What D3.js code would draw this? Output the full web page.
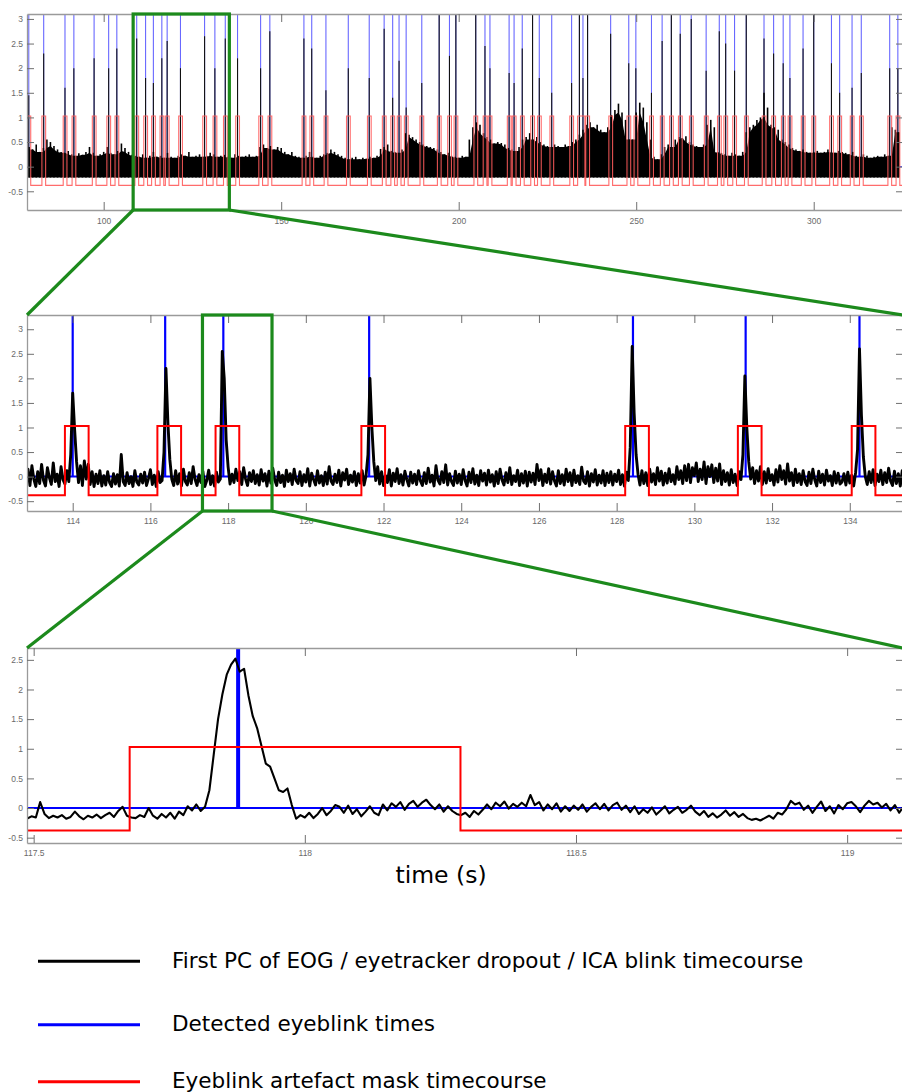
<!DOCTYPE html>
<html><head><meta charset="utf-8">
<script src="https://cdn.jsdelivr.net/npm/d3@7"></script>
<style>
html,body{margin:0;padding:0;background:#fff;}
svg{display:block;}
</style></head>
<body>
<svg id="chart" width="902" height="1092"></svg>
<script>
// ---------------- DATA ----------------
// Detected eyeblink times (s)
const blinkTimes = [78.9, 83.1, 89.1, 91.6, 97.3, 101.4, 103.7, 109.3, 111.8, 114.0, 116.38, 117.877, 121.63, 128.42, 131.32, 134.25, 137.7, 144.2, 146.8, 156.4, 158.6, 162.6, 168.9, 174.8, 179.0, 181.4, 183.2, 185.2, 189.6, 194.5, 197.4, 199.2, 204.8, 207.4, 208.8, 214.2, 215.6, 217.9, 220.8, 222.7, 226.2, 231.8, 234.0, 235.0, 236.3, 242.8, 247.9, 249.9, 254.3, 257.3, 259.9, 262.4, 265.5, 269.7, 273.4, 275.2, 277.7, 281.0, 286.0, 288.7, 291.4, 293.3, 297.0, 300.0, 305.0, 307.3, 310.8, 313.4, 321.4, 323.7];
// Peak of the black timecourse at each blink (overview panel)
const p1PeakHeights = [1.45, 2.3, 1.6, 2.0, 2.2, 2.0, 2.4, 2.6, 1.8, 1.7, 2.2, 2.55, 2.0, 2.65, 2.0, 2.6, 2.2, 2.0, 2.75, 2.6, 2.4, 1.55, 2.0, 1.8, 2.8, 1.4, 2.15, 1.2, 1.7, 3.2, 2.25, 3.3, 3.3, 2.45, 2.0, 1.9, 1.7, 2.4, 3.3, 1.8, 1.5, 1.7, 3.3, 1.8, 3.2, 2.7, 2.1, 2.0, 1.5, 2.55, 3.3, 2.7, 3.0, 1.95, 2.75, 2.5, 1.95, 3.3, 2.6, 2.3, 2.1, 1.8, 2.4, 3.2, 2.1, 1.5, 1.6, 1.9, 2.0, 2.0];
// Overview panel: upper envelope (per-second maximum) of the black trace from 79 s
const p1EnvStart = 79;
const p1EnvStep = 1;
const p1EnvTop = [
0.40,0.35,0.45,0.30,0.38,0.55,0.50,0.42,0.35,0.30,
0.28,0.32,0.25,0.22,0.27,0.24,0.30,0.40,0.28,0.22,
0.25,0.30,0.40,0.28,0.25,0.32,0.47,0.38,0.30,0.24,
0.22,0.20,0.25,0.18,0.22,0.30,0.20,0.22,0.18,0.28,
0.20,0.18,0.22,0.25,0.22,0.30,0.20,0.22,0.25,0.20,
0.22,0.28,0.25,0.20,0.22,0.24,0.20,0.18,0.25,0.22,
0.20,0.22,0.25,0.20,0.22,0.40,0.45,0.38,0.42,0.35,
0.40,0.38,0.30,0.25,0.30,0.22,0.20,0.18,0.22,0.30,
0.20,0.18,0.22,0.25,0.28,0.35,0.30,0.25,0.22,0.18,
0.15,0.18,0.20,0.15,0.18,0.16,0.20,0.18,0.22,0.36,
0.40,0.45,0.32,0.30,0.28,0.35,0.68,0.65,0.60,0.55,
0.50,0.45,0.42,0.40,0.38,0.35,0.30,0.25,0.28,0.22,
0.20,0.18,0.22,0.20,0.55,0.80,0.90,0.85,0.68,0.60,
0.55,0.47,0.50,0.48,0.45,0.38,0.35,0.32,0.40,0.55,
0.60,0.68,0.55,0.60,0.50,0.45,0.42,0.40,0.45,0.42,
0.40,0.45,0.42,0.50,0.55,0.65,0.75,0.85,0.90,0.80,
0.85,0.75,0.70,0.80,1.05,1.15,1.28,1.10,0.95,0.55,
0.55,1.10,1.30,1.20,0.90,0.55,0.20,0.15,0.25,0.40,
0.45,0.40,0.55,0.60,0.58,0.62,0.50,0.45,0.42,0.40,
0.45,0.85,0.95,0.80,0.30,0.28,0.25,0.22,0.28,0.25,
0.22,0.30,0.70,0.80,0.85,0.95,1.00,1.50,1.20,0.85,
0.80,0.75,0.55,0.50,0.45,0.38,0.35,0.32,0.35,0.30,
0.28,0.30,0.32,0.28,0.30,0.35,0.30,0.28,0.32,0.30,
0.28,0.25,0.30,0.22,0.20,0.25,0.22,0.18,0.20,0.22,
0.20,0.25,0.22,0.80,0.75,0.70];
const p1EnvFloor = -0.22;
// Middle panel: black timecourse sampled every 0.05 s from 112.8 s
const p2Start = 112.8;
const p2Step = 0.05;
const p2Signal = [
-0.12,0.15,-0.18,0.22,-0.05,-0.20,0.10,-0.14,0.25,-0.08,-0.19,0.18,-0.02,-0.16,0.28,-0.10,0.05,-0.20,0.20,-0.06,
-0.15,0.12,-0.10,0.45,1.70,0.95,0.30,-0.12,0.22,-0.18,0.32,-0.05,0.25,-0.16,0.10,-0.20,0.05,-0.14,0.12,-0.19,
0.02,-0.17,0.10,-0.12,-0.20,0.06,-0.15,0.04,-0.19,0.45,-0.10,-0.18,0.08,-0.14,0.00,-0.20,0.12,-0.11,-0.17,0.05,
-0.13,0.09,-0.18,-0.04,0.14,-0.16,0.03,-0.20,0.10,-0.12,-0.08,0.50,2.20,1.10,0.35,-0.05,-0.18,0.12,-0.15,0.06,
-0.19,0.15,-0.10,-0.17,0.08,-0.14,0.20,-0.06,-0.18,0.04,-0.12,0.11,-0.20,-0.08,0.13,-0.16,0.02,-0.19,0.09,-0.11,
-0.05,2.55,2.00,0.75,0.20,-0.15,0.05,-0.12,0.15,-0.08,0.10,-0.16,0.18,-0.05,-0.18,0.08,-0.10,0.12,-0.14,0.04,
-0.17,0.14,-0.09,0.06,-0.19,0.11,-0.13,0.17,-0.07,-0.18,0.09,-0.12,0.03,-0.20,0.13,-0.10,0.06,-0.16,0.15,-0.08,
-0.14,0.10,-0.18,0.04,-0.11,0.16,-0.19,0.07,-0.06,-0.17,0.12,-0.13,0.02,-0.18,0.09,-0.15,0.20,-0.09,-0.16,0.05,
-0.12,0.13,-0.19,0.08,-0.07,0.15,-0.16,0.03,-0.11,0.10,-0.18,0.06,-0.13,0.12,-0.17,0.02,0.45,2.00,1.00,0.30,
-0.08,0.20,-0.15,0.10,-0.18,0.02,-0.12,0.14,-0.19,0.07,-0.10,0.16,-0.14,0.04,-0.17,0.11,-0.06,-0.19,0.09,-0.13,
0.05,-0.16,0.12,-0.09,-0.18,0.08,-0.14,0.17,-0.11,0.03,-0.19,0.22,-0.07,-0.15,0.10,-0.12,0.24,-0.17,0.06,-0.10,
-0.18,0.11,-0.13,0.05,-0.16,0.14,-0.08,-0.19,0.09,-0.12,0.16,-0.15,0.03,-0.18,0.12,-0.09,0.07,-0.17,0.13,-0.11,
0.04,-0.19,0.10,-0.14,0.15,-0.07,-0.17,0.08,-0.12,0.18,-0.16,0.02,-0.10,0.13,-0.18,0.06,-0.13,0.11,-0.19,0.09,
-0.11,0.07,-0.16,0.25,-0.08,0.14,-0.18,0.05,-0.12,0.16,-0.15,0.10,-0.09,-0.19,0.12,-0.14,0.04,-0.17,0.15,-0.10,
0.08,-0.18,0.13,-0.12,0.02,-0.16,0.19,-0.09,-0.14,0.10,-0.19,0.06,-0.11,0.14,-0.17,0.03,-0.13,0.12,-0.18,0.07,
-0.12,0.10,-0.17,0.05,-0.10,0.13,-0.16,0.04,-0.19,0.09,-0.08,0.60,2.65,1.30,0.45,0.05,-0.17,0.12,-0.14,0.08,
-0.18,0.15,-0.11,0.06,-0.16,0.18,-0.09,0.11,-0.17,0.07,-0.13,0.16,-0.10,0.04,-0.15,0.20,-0.06,0.12,-0.14,0.22,
-0.08,0.25,-0.12,0.18,0.02,0.28,-0.10,0.15,-0.06,0.30,-0.14,0.20,0.00,0.24,-0.12,0.17,-0.09,0.26,-0.16,0.12,
-0.10,0.08,-0.17,0.14,-0.12,0.05,-0.18,0.10,-0.06,0.45,2.05,1.00,0.30,-0.05,0.18,-0.14,0.12,-0.09,0.20,-0.16,
0.10,-0.13,0.16,-0.08,0.04,-0.17,0.14,-0.11,0.22,-0.06,0.12,-0.15,0.26,-0.09,0.08,-0.18,0.15,-0.12,0.06,-0.16,
0.12,-0.10,-0.18,0.09,-0.14,0.15,-0.07,-0.19,0.11,-0.12,0.05,-0.17,0.13,-0.09,0.02,-0.18,0.10,-0.13,0.07,-0.15,
-0.11,0.06,-0.17,0.09,-0.13,0.03,-0.19,0.08,0.55,2.60,1.25,0.40,0.00,-0.16,0.10,-0.12,0.14,-0.18,0.05,-0.10,
0.13,-0.16,0.08,-0.12,0.17,-0.09,-0.18,0.11,-0.14,0.06,-0.19,0.12,-0.08,0.15,-0.17,0.04,-0.13,0.10,-0.18,0.07];
// Bottom panel: black timecourse sampled every 0.008 s from 117.488 s
const p3Start = 117.488;
const p3Step = 0.008;
const p3Signal = [
-0.18,-0.14,-0.16,0.10,-0.10,-0.17,-0.13,-0.16,-0.12,-0.18,-0.15,-0.06,-0.14,-0.19,-0.13,-0.16,-0.11,-0.17,-0.12,-0.08,-0.15,-0.05,0.02,-0.13,-0.16,
-0.17,-0.12,-0.15,0.00,-0.13,-0.18,-0.10,-0.16,-0.08,-0.18,-0.06,-0.12,0.03,-0.04,0.06,-0.05,0.02,0.30,0.90,1.50,1.92,2.25,2.42,2.52,2.30,
2.35,1.90,1.55,1.35,1.05,0.75,0.70,0.50,0.30,0.27,0.33,0.05,-0.18,-0.12,-0.16,-0.08,-0.17,-0.10,0.00,-0.12,-0.05,0.05,0.02,-0.08,0.04,
-0.10,-0.02,-0.14,-0.06,0.03,-0.08,-0.12,0.06,-0.04,0.08,0.02,0.10,-0.03,0.07,0.12,0.02,0.09,0.14,0.05,-0.02,0.06,-0.06,0.03,-0.05,-0.10,
-0.12,-0.08,-0.15,-0.05,-0.11,-0.03,0.06,-0.02,0.09,0.03,0.11,-0.01,0.07,0.02,0.09,0.03,0.22,0.05,0.10,-0.04,0.06,-0.02,0.08,-0.06,0.03,
-0.05,0.04,-0.03,0.06,-0.06,0.02,0.08,-0.02,0.07,-0.04,0.05,0.09,-0.03,0.04,-0.07,0.03,-0.10,-0.02,-0.08,0.01,-0.11,-0.04,0.03,-0.09,-0.03,
0.02,-0.08,-0.03,0.04,-0.06,-0.12,-0.05,-0.15,-0.09,-0.16,-0.11,-0.04,-0.13,-0.07,-0.15,-0.10,-0.17,-0.20,-0.18,-0.21,-0.17,-0.13,-0.18,-0.08,-0.11,
-0.02,0.12,0.06,0.09,-0.03,0.04,-0.08,0.02,0.11,-0.05,0.03,-0.09,0.05,-0.02,0.08,0.10,0.03,-0.07,0.04,0.12,0.06,0.09,0.01,0.07,-0.04,
0.05,-0.08,0.03,0.06,-0.02];
// Artefact mask: levels and extent around each blink (s)
const maskLow = -0.38;
const maskHigh = 1.03;
const maskPre = 0.2;
const maskPost = 0.41;
const p1MaskPre = 0.5;
const p1MaskPost = 0.55;
// Axis ticks
const p1XTicks = [100, 150, 200, 250, 300];
const p2XTicks = [114, 116, 118, 120, 122, 124, 126, 128, 130, 132, 134];
const p3XTicks = [117.5, 118, 118.5, 119];
const p12YTicks = [-0.5, 0, 0.5, 1, 1.5, 2, 2.5, 3];
const p3YTicks = [-0.5, 0, 0.5, 1, 1.5, 2, 2.5];
// Zoomed windows
const zoomBox1 = [108.3, 135.4];
const zoomBox2 = [117.34, 119.13];
// Texts
const xAxisTitle = "time (s)";
const legendLabels = ["First PC of EOG / eyetracker dropout / ICA blink timecourse", "Detected eyeblink times", "Eyeblink artefact mask timecourse"];
const legendColors = ["#000000", "#0000ff", "#ff0000"];

// ---------------- LAYOUT ----------------
const svg = d3.select("#chart");
const L = 27, R = 903;
const panels = [
  {id: 1, top: 14, bottom: 210, xd: [78.4, 325.15], yd: [-0.88, 3.1], xt: p1XTicks, yt: p12YTicks, xpad: 8},
  {id: 2, top: 315, bottom: 511, xd: [112.824, 135.37], yd: [-0.70, 3.29], xt: p2XTicks, yt: p12YTicks, xpad: 7},
  {id: 3, top: 648, bottom: 843, xd: [117.4877, 119.103], yd: [-0.59, 2.70], xt: p3XTicks, yt: p3YTicks, xpad: 7}
];
const green = "#1c8a1c";

function maskPoints(pre, post, xd) {
  const iv = blinkTimes.map(b => [b - pre, b + post]).sort((a, b) => a[0] - b[0]);
  const merged = [];
  iv.forEach(v => {
    const last = merged[merged.length - 1];
    if (last && v[0] <= last[1]) last[1] = Math.max(last[1], v[1]);
    else merged.push(v.slice());
  });
  const pts = [[xd[0] - 5, maskLow]];
  merged.forEach(([a, b]) => { pts.push([a, maskLow], [a, maskHigh], [b, maskHigh], [b, maskLow]); });
  pts.push([xd[1] + 5, maskLow]);
  return pts;
}

function setupPanel(cfg) {
  const x = d3.scaleLinear().domain(cfg.xd).range([L, R]);
  const y = d3.scaleLinear().domain(cfg.yd).range([cfg.bottom, cfg.top]);
  svg.append("clipPath").attr("id", "clip" + cfg.id)
    .append("rect").attr("x", L).attr("y", cfg.top).attr("width", R - L).attr("height", cfg.bottom - cfg.top);
  const g = svg.append("g");
  const data = g.append("g").attr("clip-path", `url(#clip${cfg.id})`);
  return {x, y, g, data, cfg};
}

function drawAxes(p) {
  const cfg = p.cfg;
  const fmt = d => String(d);
  const styleAxis = sel => {
    sel.select(".domain").attr("stroke", "#9a9a9a").attr("stroke-width", 1.3);
    sel.selectAll(".tick line").attr("stroke", "#707070").attr("stroke-width", 1);
    sel.selectAll(".tick text").attr("fill", "#6a6a6a").attr("font-family", "Liberation Sans, Arial, sans-serif").attr("font-size", 8.5);
  };
  p.g.append("g").attr("transform", `translate(0,${cfg.bottom})`)
    .call(d3.axisBottom(p.x).tickValues(cfg.xt).tickSize(-8).tickSizeOuter(0).tickPadding(cfg.xpad).tickFormat(fmt))
    .call(styleAxis);
  p.g.append("g").attr("transform", `translate(0,${cfg.top})`)
    .call(d3.axisTop(p.x).tickValues(cfg.xt).tickSize(-8).tickSizeOuter(0).tickFormat(""))
    .call(styleAxis);
  p.g.append("g").attr("transform", `translate(${L},0)`)
    .call(d3.axisLeft(p.y).tickValues(cfg.yt).tickSize(-7).tickSizeOuter(0).tickPadding(4).tickFormat(fmt))
    .call(styleAxis);
  p.g.append("g").attr("transform", `translate(${R},0)`)
    .call(d3.axisRight(p.y).tickValues(cfg.yt).tickSize(-7).tickSizeOuter(0).tickFormat(""))
    .call(styleAxis);
}

const P = panels.map(setupPanel);

// ---- Panel 1 (overview) ----
(function () {
  const p = P[0], x = p.x, y = p.y, xd = p.cfg.xd;
  const inRange = blinkTimes.map((b, i) => ({b, h: p1PeakHeights[i]}));
  p.data.append("path").attr("d", d3.line()([[x(xd[0]), y(0)], [x(xd[1]), y(0)]]))
    .attr("stroke", "#3b3bff").attr("stroke-width", 1).attr("fill", "none");
  p.data.selectAll("line.blue").data(inRange).join("line").attr("class", "blue")
    .attr("x1", d => x(d.b)).attr("x2", d => x(d.b)).attr("y1", y(0)).attr("y2", p.cfg.top - 5)
    .attr("stroke", "#3535ff").attr("stroke-opacity", 0.75).attr("stroke-width", 1.1);
  // dense body of the trace: lower of neighbouring per-second maxima
  const body = p1EnvTop.map((v, i) => Math.min(v, p1EnvTop[Math.max(0, i - 1)], p1EnvTop[Math.min(p1EnvTop.length - 1, i + 1)]));
  const area = d3.area()
    .x((d, i) => x(p1EnvStart + i * p1EnvStep))
    .y0(() => y(p1EnvFloor))
    .y1(d => y(d))
    .curve(d3.curveLinear);
  p.data.append("path").datum(body).attr("d", area).attr("fill", "#000");
  // per-second maxima as needles
  p.data.selectAll("line.env").data(p1EnvTop).join("line").attr("class", "env")
    .attr("x1", (d, i) => x(p1EnvStart + i * p1EnvStep)).attr("x2", (d, i) => x(p1EnvStart + i * p1EnvStep))
    .attr("y1", y(p1EnvFloor)).attr("y2", d => y(d))
    .attr("stroke", "#000").attr("stroke-width", 1.6);
  p.data.selectAll("line.spk").data(inRange).join("line").attr("class", "spk")
    .attr("x1", d => x(d.b)).attr("x2", d => x(d.b)).attr("y1", y(p1EnvFloor)).attr("y2", d => y(d.h))
    .attr("stroke", "#111").attr("stroke-width", 1.1);
  p.data.append("path").datum(maskPoints(p1MaskPre, p1MaskPost, xd))
    .attr("d", d3.line().x(d => x(d[0])).y(d => y(d[1])))
    .attr("fill", "none").attr("stroke", "#ff5c5c").attr("stroke-width", 1.1).attr("stroke-opacity", 0.9);
  drawAxes(p);
})();

// ---- Panel 2 ----
(function () {
  const p = P[1], x = p.x, y = p.y, xd = p.cfg.xd;
  const bl = blinkTimes.filter(b => b >= xd[0] && b <= xd[1]);
  p.data.append("path").attr("d", d3.line()([[x(xd[0]), y(0)], [x(xd[1]), y(0)]]))
    .attr("stroke", "#0000ff").attr("stroke-width", 2).attr("fill", "none");
  p.data.selectAll("line.blue").data(bl).join("line").attr("class", "blue")
    .attr("x1", d => x(d)).attr("x2", d => x(d)).attr("y1", y(0)).attr("y2", p.cfg.top - 5)
    .attr("stroke", "#0000ff").attr("stroke-width", 2.2);
  p.data.append("path").datum(p2Signal)
    .attr("d", d3.line().x((d, i) => x(p2Start + i * p2Step)).y(d => y(d)))
    .attr("fill", "none").attr("stroke", "#000").attr("stroke-width", 2.9).attr("stroke-linejoin", "round");
  p.data.append("path").datum(maskPoints(maskPre, maskPost, xd))
    .attr("d", d3.line().x(d => x(d[0])).y(d => y(d[1])))
    .attr("fill", "none").attr("stroke", "#ff0000").attr("stroke-width", 2);
  drawAxes(p);
})();

// ---- Panel 3 ----
(function () {
  const p = P[2], x = p.x, y = p.y, xd = p.cfg.xd;
  const bl = blinkTimes.filter(b => b >= xd[0] && b <= xd[1]);
  p.data.append("path").attr("d", d3.line()([[x(xd[0]), y(0)], [x(xd[1]), y(0)]]))
    .attr("stroke", "#0000ff").attr("stroke-width", 2).attr("fill", "none");
  p.data.selectAll("line.blue").data(bl).join("line").attr("class", "blue")
    .attr("x1", d => x(d)).attr("x2", d => x(d)).attr("y1", y(0)).attr("y2", p.cfg.top - 5)
    .attr("stroke", "#0000ff").attr("stroke-width", 4);
  p.data.append("path").datum(p3Signal)
    .attr("d", d3.line().x((d, i) => x(p3Start + i * p3Step)).y(d => y(d)))
    .attr("fill", "none").attr("stroke", "#000").attr("stroke-width", 2.1).attr("stroke-linejoin", "round");
  p.data.append("path").datum(maskPoints(maskPre, maskPost, xd))
    .attr("d", d3.line().x(d => x(d[0])).y(d => y(d[1])))
    .attr("fill", "none").attr("stroke", "#ff0000").attr("stroke-width", 2);
  drawAxes(p);
})();

// ---- Zoom boxes and connectors ----
function zoomBox(pFrom, pTo, range) {
  const x0 = pFrom.x(range[0]), x1 = pFrom.x(range[1]);
  const t = pFrom.cfg.top, b = pFrom.cfg.bottom;
  svg.append("rect").attr("x", x0).attr("y", t).attr("width", x1 - x0).attr("height", b - t)
    .attr("fill", "none").attr("stroke", green).attr("stroke-width", 3.2);
  svg.append("line").attr("x1", x0).attr("y1", b).attr("x2", L).attr("y2", pTo.cfg.top)
    .attr("stroke", green).attr("stroke-width", 3.2);
  svg.append("line").attr("x1", x1).attr("y1", b).attr("x2", R).attr("y2", pTo.cfg.top)
    .attr("stroke", green).attr("stroke-width", 3.2);
}
zoomBox(P[0], P[1], zoomBox1);
zoomBox(P[1], P[2], zoomBox2);

// ---- x-axis title ----
svg.append("text").attr("x", 441).attr("y", 883).attr("text-anchor", "middle")
  .attr("font-family", "DejaVu Sans, sans-serif").attr("font-size", 23.5).attr("fill", "#000")
  .text(xAxisTitle);

// ---- Legend ----
const legY = [961.3, 1024.7, 1081.7];
const leg = svg.append("g");
legendLabels.forEach((lab, i) => {
  leg.append("line").attr("x1", 38).attr("x2", 140).attr("y1", legY[i]).attr("y2", legY[i])
    .attr("stroke", legendColors[i]).attr("stroke-width", 3);
  leg.append("text").attr("x", 172).attr("y", legY[i] + 6.4)
    .attr("font-family", "DejaVu Sans, sans-serif").attr("font-size", 21.5).attr("fill", "#000")
    .text(lab);
});
</script>
</body></html>
